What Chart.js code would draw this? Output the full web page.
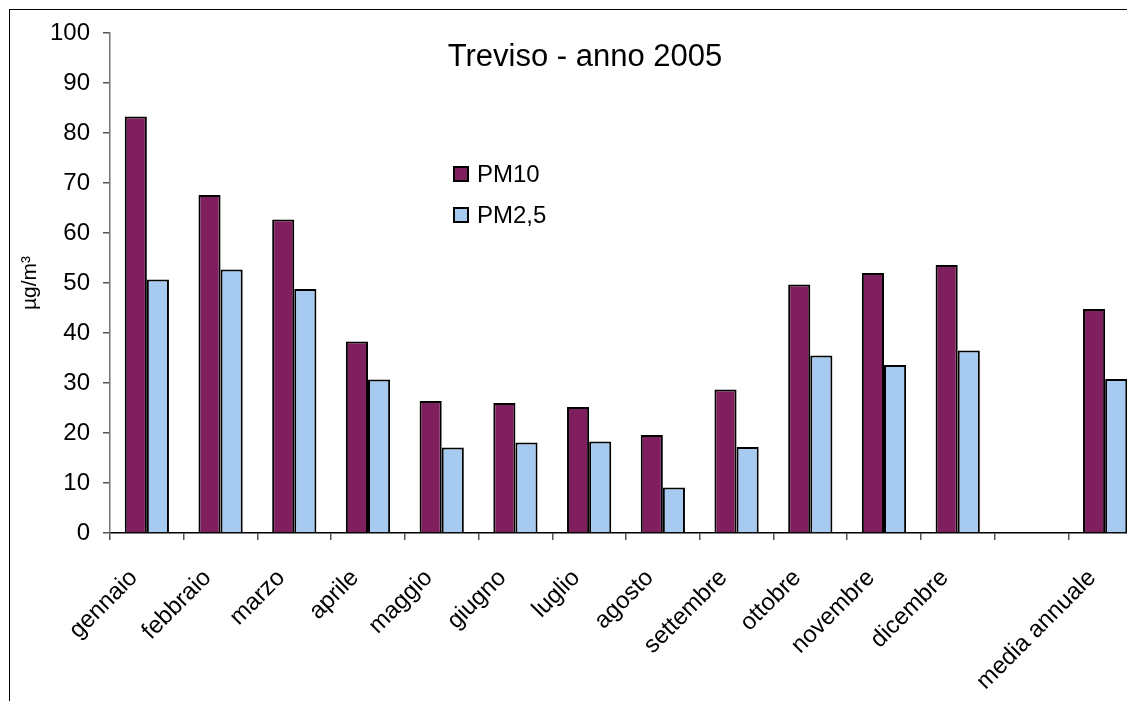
<!DOCTYPE html>
<html>
<head>
<meta charset="utf-8">
<script src="https://cdn.jsdelivr.net/npm/chart.js@4.4.1/dist/chart.umd.min.js"></script>
<style>
  html, body { margin: 0; padding: 0; background: #fff; overflow: hidden; width: 1127px; height: 701px; }
  #wrap { position: absolute; left: 0; top: 0; width: 1160px; height: 701px; }
  #frame { position: absolute; left: 9px; top: 9px; width: 1300px; height: 900px; border: 1px solid #000; box-sizing: border-box; pointer-events: none; }
</style>
</head>
<body>
<div id="wrap"><canvas id="c" width="1160" height="701"></canvas></div>
<div id="frame"></div>
<script>
const categories = ['gennaio','febbraio','marzo','aprile','maggio','giugno','luglio','agosto','settembre','ottobre','novembre','dicembre','','media annuale'];
const pm10 = [83.3, 67.6, 62.7, 38.3, 26.4, 26.0, 25.2, 19.6, 28.7, 49.7, 52.0, 53.6, null, 44.8];
const pm25 = [50.7, 52.7, 48.8, 30.7, 17.1, 18.1, 18.3, 9.1, 17.2, 35.5, 33.6, 36.5, null, 30.8];
const seriesNames = ['PM10', 'PM2,5'];
const titleText = 'Treviso - anno 2005';
const yTitle = 'µg/m³';
const yTicks = [0, 10, 20, 30, 40, 50, 60, 70, 80, 90, 100];

const FONT = '"Liberation Sans", Arial, sans-serif';

const overlay = {
  id: 'overlay',
  afterDraw(chart) {
    const ctx = chart.ctx;
    const a = chart.chartArea;
    ctx.save();
    ctx.fillStyle = '#000';
    ctx.font = '31px ' + FONT;
    ctx.textAlign = 'center';
    ctx.textBaseline = 'middle';
    ctx.fillText(titleText, a.left + 475, a.top + 24);
    // legend
    ctx.font = '24px ' + FONT;
    ctx.textAlign = 'left';
    chart.data.datasets.forEach((ds, i) => {
      const cy = a.top + 141 + i * 41;
      const x = a.left + 344;
      ctx.fillStyle = ds.backgroundColor;
      ctx.fillRect(x, cy - 7, 14, 14);
      ctx.lineWidth = 2;
      ctx.strokeStyle = '#000';
      ctx.strokeRect(x, cy - 7, 14, 14);
      ctx.fillStyle = '#000';
      ctx.fillText(ds.label, x + 23, cy + 1);
    });
    ctx.restore();
  }
};

new Chart(document.getElementById('c'), {
  type: 'bar',
  data: {
    labels: categories,
    datasets: [
      { label: seriesNames[0], data: pm10, backgroundColor: '#801f5e', borderColor: '#000', borderWidth: 2 },
      { label: seriesNames[1], data: pm25, backgroundColor: '#a6caf0', borderColor: '#000', borderWidth: 2 }
    ]
  },
  options: {
    responsive: false,
    animation: false,
    datasets: { bar: { categoryPercentage: 0.6, barPercentage: 1.0 } },
    layout: { padding: { left: 10, top: 33, right: 18, bottom: 0 } },
    plugins: { legend: { display: false }, title: { display: false }, tooltip: { enabled: false } },
    scales: {
      x: {
        offset: true,
        afterFit(s) { s.height = 168; },
        grid: { offset: true, drawOnChartArea: false, drawTicks: true, tickLength: 7, color: '#555', lineWidth: 1.5 },
        border: { color: '#000', width: 1.5 },
        ticks: { autoSkip: false, minRotation: 45, maxRotation: 45, padding: 24, labelOffset: -13, color: '#000', font: { family: FONT, size: 24 } }
      },
      y: {
        min: 0, max: 100,
        afterFit(s) { s.width = 100; },
        afterBuildTicks(s) { s.ticks = yTicks.map(v => ({ value: v })); },
        grid: { drawOnChartArea: false, drawTicks: true, tickLength: 7, color: '#555', lineWidth: 1.5 },
        border: { color: '#777', width: 1.5 },
        ticks: { padding: 13, color: '#000', font: { family: FONT, size: 24 } },
        title: { display: true, text: yTitle, color: '#000', padding: { top: 8, bottom: 0 }, font: { family: FONT, size: 21 } }
      }
    }
  },
  plugins: [overlay]
});
</script>
</body>
</html>
